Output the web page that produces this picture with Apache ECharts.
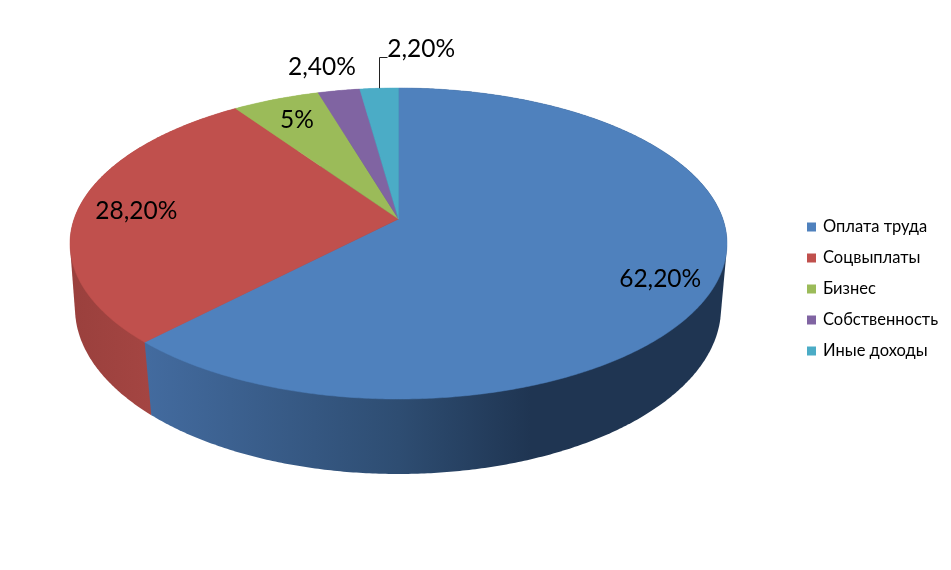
<!DOCTYPE html>
<html>
<head>
<meta charset="utf-8">
<style>
html, body { margin: 0; padding: 0; background: #fff; }
#chart { width: 951px; height: 570px; }
</style>
<script src="https://cdn.jsdelivr.net/npm/echarts@6/dist/echarts.min.js"></script>
</head>
<body>
<div id="chart"></div>
<script>
var categories = ['Оплата труда', 'Соцвыплаты', 'Бизнес', 'Собственность', 'Иные доходы'];
var shares = [62.2, 28.2, 5, 2.4, 2.2];
var labelTexts = ['62,20%', '28,20%', '5%', '2,40%', '2,20%'];

var colors = ['#4f81bd', '#c0504d', '#9bbb59', '#8064a2', '#4bacc6'];
var fontName = 'Lato, "Noto Sans", sans-serif';

// top face and base of the disc, the centre of the pie sits above the ellipse centre
var topFace = {cx: 398.5, cy: 243.5, rx: 328.5, ry: 155.5, tilt: -0.1576};
var baseFace = {cx: 398, cy: 308, rx: 323, ry: 166, tilt: -0.14};
// label shift from the middle of the slice rim
var labelShift = [[-58, 0], [57, 4], [21, 21], [-17, -23], [42, -39]];

var total = shares.reduce(function (a, b) { return a + b; }, 0);

function project(face, deg, r) {
    var t = deg * Math.PI / 180;
    var x = r * Math.sin(t);
    var y = -r * Math.cos(t);
    var d = 1 + face.tilt * y;
    return [
        face.cx + face.rx * x * Math.sqrt(1 - face.tilt * face.tilt) / d,
        face.cy + face.ry * (y + face.tilt) / d
    ];
}

function arc(face, from, to) {
    var pts = [];
    var steps = Math.max(2, Math.ceil((to - from) * 2));
    for (var i = 0; i <= steps; i++) {
        pts.push(project(face, from + (to - from) * i / steps, 1));
    }
    return pts;
}

// the wall outline runs straight from top to base, so take the hull of both rims
function hull(points) {
    var sorted = points.slice().sort(function (a, b) {
        return a[0] - b[0] || a[1] - b[1];
    });
    function half(list) {
        var out = [];
        list.forEach(function (p) {
            while (out.length > 1) {
                var a = out[out.length - 2];
                var b = out[out.length - 1];
                if ((b[0] - a[0]) * (p[1] - a[1]) - (b[1] - a[1]) * (p[0] - a[0]) > 0) {
                    break;
                }
                out.pop();
            }
            out.push(p);
        });
        out.pop();
        return out;
    }
    return half(sorted).concat(half(sorted.slice().reverse()));
}

function wallFill(index) {
    if (index === 0) {
        return new echarts.graphic.LinearGradient(146, 0, 720, 0, [
            {offset: 0, color: '#436b9f'},
            {offset: 0.44, color: '#2e4d72'},
            {offset: 0.67, color: '#1f3552'},
            {offset: 1, color: '#1f3552'}
        ], true);
    }
    if (index === 1) {
        return new echarts.graphic.LinearGradient(70, 0, 150, 0, [
            {offset: 0, color: '#9a403d'},
            {offset: 1, color: '#a44542'}
        ], true);
    }
    return colors[index];
}

function sliceItem(index) {
    return function (params, api) {
        var before = 0;
        for (var i = 0; i < index; i++) {
            before += shares[i];
        }
        var from = before / total * 360;
        var to = (before + api.value(0)) / total * 360;
        var rim = arc(topFace, from, to);
        var baseRim = arc(baseFace, from, to);
        var wall = wallFill(index);
        var mid = project(topFace, (from + to) / 2, 1);
        var shift = labelShift[index];
        var children = [
            {
                type: 'polygon',
                z2: 5 - index,
                shape: {points: hull(rim.concat(baseRim))},
                style: {fill: wall}
            },
            {
                type: 'polygon',
                z2: 10 + index,
                shape: {points: [project(topFace, 0, 0)].concat(rim)},
                style: {fill: colors[index], stroke: colors[index], lineWidth: 0.5}
            },
            {
                type: 'text',
                z2: 20,
                style: {
                    x: mid[0] + shift[0],
                    y: mid[1] + shift[1],
                    text: labelTexts[index],
                    fill: '#000',
                    font: '24.5px ' + fontName,
                    align: 'center',
                    verticalAlign: 'middle'
                }
            }
        ];
        // only the smallest slice has a leader line
        if (index === 4) {
            var lx = Math.round(mid[0]) + 0.5;
            var ly = Math.round(mid[1]) - 30.5;
            children.push({
                type: 'polyline',
                z2: 21,
                shape: {points: [[lx, mid[1]], [lx, ly], [lx + 8, ly]]},
                style: {fill: null, stroke: '#222', lineWidth: 1}
            });
        }
        return {type: 'group', children: children};
    };
}

var chart = echarts.init(document.getElementById('chart'));
chart.setOption({
    animation: false,
    backgroundColor: '#fff',
    color: colors,
    legend: {
        orient: 'vertical',
        left: 807,
        top: 218,
        icon: 'rect',
        itemWidth: 9,
        itemHeight: 9,
        itemGap: 13,
        data: categories,
        textStyle: {fontFamily: fontName, fontSize: 16.5, color: '#000', lineHeight: 18, padding: [0, 0, 0, 2]},
        selectedMode: false,
        padding: 0
    },
    series: categories.map(function (name, i) {
        return {
            type: 'custom',
            name: name,
            coordinateSystem: 'none',
            silent: true,
            renderItem: sliceItem(i),
            data: [[shares[i]]]
        };
    })
});
</script>
</body>
</html>
